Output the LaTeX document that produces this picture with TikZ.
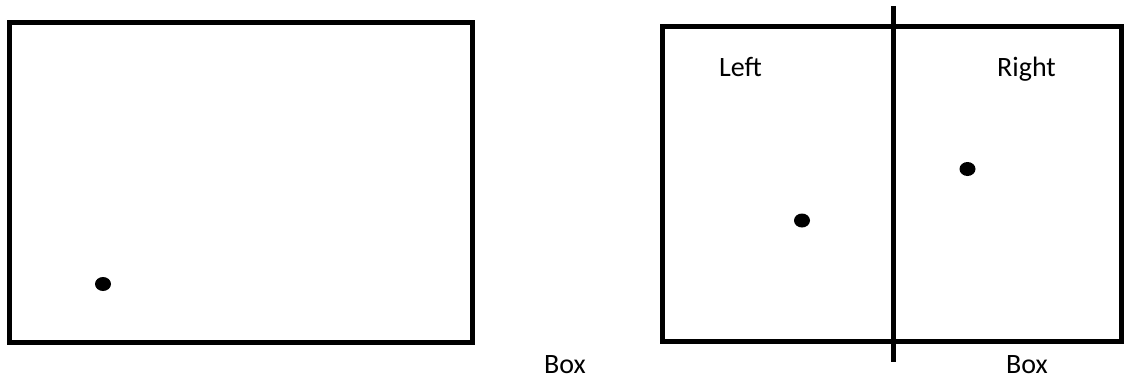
\documentclass[tikz,border=0pt]{standalone}
\usepackage{fontspec}
\setmainfont{Carlito}
\begin{document}
\begin{tikzpicture}[x=1pt,y=-1pt,
  frame/.style={draw=black,line width=5pt,line join=miter},
  divider/.style={draw=black,line width=5pt},
  pt/.style={fill=black},
  lbl/.style={inner sep=0pt,anchor=base west,font=\fontsize{28}{32}\selectfont}]
\useasboundingbox (0,0) rectangle (1125,381);
\draw[frame] (9.5,22.5) rectangle (472.5,342);
\draw[frame] (662,26.5) rectangle (1121.5,341);
\coordinate (dtop) at (893.5,6);
\coordinate (dbot) at (893.5,362);
\draw[divider] (dtop) -- (dbot);
\fill[pt] (103,284) ellipse (8 and 7);
\fill[pt] (802,220.5) ellipse (8 and 7);
\fill[pt] (967.5,169) ellipse (8 and 7);
\node[lbl] (left) at (719,76) {Left};
\node[lbl] (right) at (997,76) {Right};
\node[lbl] (box1) at (544,373) {Box};
\node[lbl] (box2) at (1006,373) {Box};
\end{tikzpicture}
\end{document}
